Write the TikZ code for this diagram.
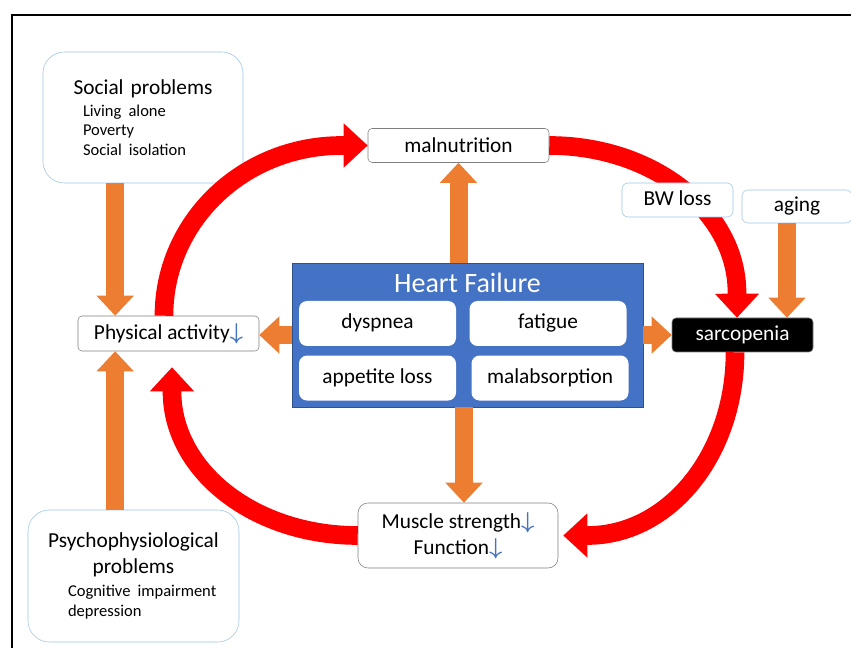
\documentclass[tikz,border=0pt]{standalone}
\usepackage{fontspec}
\setmainfont{Carlito}
\usetikzlibrary{arrows.meta, calc, positioning}
\definecolor{hfblue}{HTML}{4472C4}
\definecolor{hfedge}{HTML}{2F528F}
\definecolor{feedorange}{HTML}{ED7D31}
\definecolor{paleblue}{HTML}{9DC3E6}
\definecolor{boxgray}{HTML}{7F7F7F}
\newcommand{\bigtext}{\fontsize{16}{19.5}\selectfont}
\newcommand{\itemtext}{\fontsize{12.4}{14.6}\selectfont}
\newcommand{\titletext}{\fontsize{21}{25}\selectfont}
\newcommand{\downmark}{\textcolor{hfblue}{\boldmath$\downarrow$}}
\newcommand{\entry}[1]{\par\noindent\hspace*{30pt}#1}
\tikzstyle{softbox} = [rectangle, draw=paleblue, fill=white, rounded corners=16pt, inner sep=0pt, font=\bigtext]
\tikzstyle{tag} = [rectangle, draw=paleblue, fill=white, rounded corners=4.5pt, minimum height=25.5pt, text height=11.5pt, text depth=3.5pt, font=\bigtext]
\tikzstyle{block} = [rectangle, draw=boxgray, fill=white, rounded corners=3pt, minimum height=25.5pt, align=center, font=\bigtext]
\tikzstyle{symptom} = [rectangle, fill=white, rounded corners=6pt, minimum width=117.75pt, minimum height=33.75pt, text height=11.5pt, text depth=3.5pt, font=\bigtext]
\tikzstyle{cyclearrow} = [line width=14pt, red, -{Triangle[width=32pt,length=18pt]}]
\tikzstyle{feedarrow} = [line width=13.5pt, feedorange, -{Triangle[width=27pt,length=15pt]}]

\begin{document}
\begin{tikzpicture}[x=0.75pt, y=-0.75pt]
	\clip (0,0) rectangle (851,648);
	\draw [line width=1.5pt] (12,660) -- (12,15) -- (870,15);
	% heart failure and its symptoms
	\node (HeartFailure) [rectangle, fill=hfblue, draw=hfedge, minimum width=263.25pt, minimum height=108pt, label={[anchor=base, yshift=-22.5pt, text=white, font=\titletext]north:Heart Failure}] at (467.5,335) {};
	\node (Dyspnea) [symptom, below right = 28.5pt and 5.25pt of HeartFailure.north west] {dyspnea};
	\node (Fatigue) [symptom, right = 9.75pt of Dyspnea] {fatigue};
	\node (Appetite) [symptom, below = 6.75pt of Dyspnea] {appetite loss};
	\node (Malabsorption) [symptom, right = 11.25pt of Appetite] {malabsorption};
	% boxes round it
	\node (Social) [softbox, text width=150pt, minimum height=98.25pt] at (143,117.5) {{\centering Social problems\par}\vspace{1.9pt}
		{\itemtext\entry{Living alone}\entry{Poverty}\entry{Social isolation}\par}};
	\node (Psycho) [softbox, text width=158.25pt, minimum height=99pt] at (133.5,576) {{\centering Psychophysiological\\problems\par}\vspace{2.6pt}
		{\itemtext\entry{Cognitive impairment}\entry{depression}\par}};
	\node (Malnutrition) [block, minimum width=135.75pt] at (458.5,145.5) {malnutrition};
	\node (Physical) [block, minimum width=135.75pt, minimum height=26.25pt] at (168.5,333.5) {Physical activity\downmark};
	\node (Sarcopenia) [block, fill=black, text=white, minimum width=105.75pt] at (742.5,335) {sarcopenia};
	\node (Aging) [tag, minimum width=82.5pt, minimum height=24.75pt] at (797,206.5) {aging};
	\node (Muscle) [block, rounded corners=7.5pt, minimum width=150pt, minimum height=48.75pt] at (458,535.5) {Muscle strength\downmark\\Function\downmark};
	% vicious circle
	\draw [cyclearrow] ([xshift=-3.4pt]Physical.north) .. controls +(0,-94) and +(-99,0) .. ($(Malnutrition.west)+(-26,0)$) -- (Malnutrition.west);
	\draw [cyclearrow] (Malnutrition.east) .. controls +(104,0) and +(0,-81) .. ($(Sarcopenia.north)+(-5.5,-25)$) -- ([xshift=-4.1pt]Sarcopenia.north);
	\draw [cyclearrow] ([xshift=-5.6pt]Sarcopenia.south) .. controls +(0,102) and +(82,0) .. ($(Muscle.east)+(29,0)$) -- ([xshift=3.75pt]Muscle.east);
	\draw [cyclearrow] (Muscle.west) .. controls +(-103,0) and +(0,80) .. ($(Physical.south)+(3.5,40)$) -- ($(Physical.south)+(3.5,16)$);
	\node (BWLoss) [tag, minimum width=83.25pt] at (677.5,200) {BW loss};
	% causes
	\draw [feedarrow] ([xshift=-40pt]Physical.north |- Social.south) -- ([xshift=-40pt]Physical.north);
	\draw [feedarrow] ([xshift=-40pt]Physical.south |- Psycho.north) -- ([xshift=-40pt]Physical.south);
	\draw [feedarrow] (HeartFailure.north -| Malnutrition.south) -- (Malnutrition.south);
	\draw [feedarrow] ([xshift=4.5pt]HeartFailure.south -| Muscle.north) -- ([xshift=4.5pt]Muscle.north);
	\draw [feedarrow] (HeartFailure.west) -- (HeartFailure.west -| Physical.east);
	\draw [feedarrow] (HeartFailure.east) -- (HeartFailure.east -| Sarcopenia.west);
	\draw [feedarrow] ([xshift=-7.5pt]Aging.south) -- ([xshift=-7.5pt]Aging.south |- Sarcopenia.north);
\end{tikzpicture}
\end{document}
